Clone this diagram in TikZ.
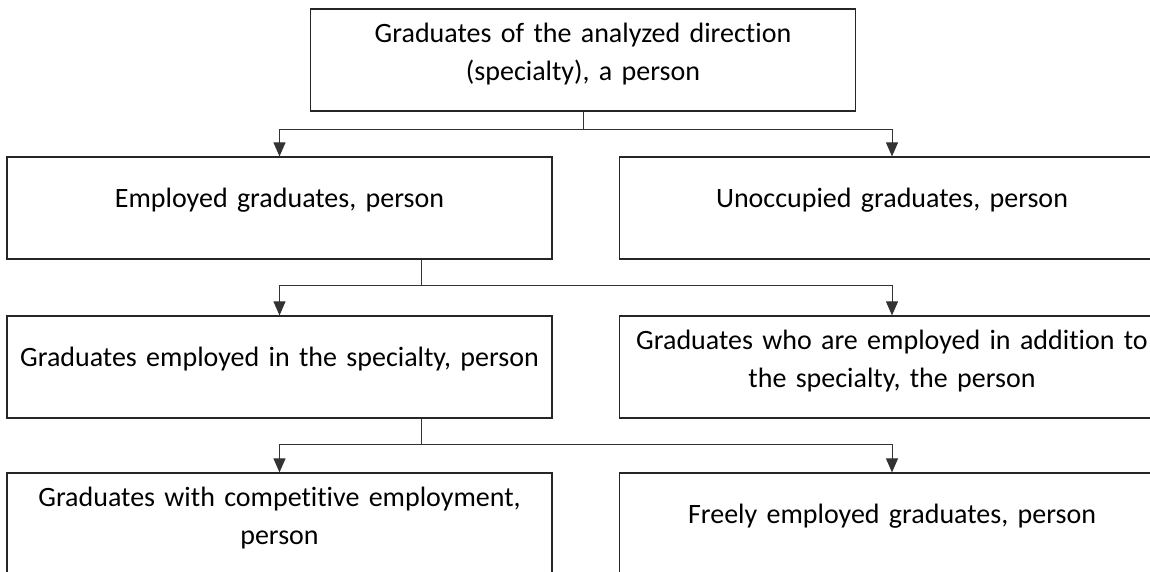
\documentclass[tikz,border=0pt]{standalone}
\usepackage{fontspec}
\setmainfont[Ligatures=NoCommon,WordSpace=0.8]{Carlito}
\usetikzlibrary{arrows.meta}

\begin{document}
\begin{tikzpicture}[
		x=1pt, y=1pt,
		node distance=157pt,
		bigbox/.style={rectangle,draw=black!85,line width=1.2pt,inner sep=0pt,
		text width=545pt,align=center,font=\fontsize{28}{38}\selectfont},
		oneline/.style={bigbox,text height=50pt,text depth=52pt},
		twoline/.style={bigbox,text height=33pt,text depth=69pt},
		stem/.style={draw=black!80,line width=1pt},
		fork/.style={stem,-{Triangle[width=12pt,length=14pt]}}
		]
	\useasboundingbox (0,0) rectangle (1150,-571);
	\clip (0,0) rectangle (1150,-571);

	\node[twoline](T) at (583,-60){Graduates of the analyzed direction\\(specialty), a person};
	\node[oneline, below of = T, xshift = -303.5pt, yshift = 9pt](E){Employed graduates, person};
	\node[oneline, right of = E, xshift = 455.5pt](U){Unoccupied graduates, person};
	\node[oneline, below of = E, yshift = -2pt](S){Graduates employed in the specialty, person};
	\node[twoline, below of = U, yshift = -2pt](A){Graduates who are employed in addition to\\the specialty, the person};
	\node[twoline, below of = S](C){Graduates with competitive employment,\\person};
	\node[oneline, below of = A](F){Freely employed graduates, person};

	% first split
	\draw[stem] (T.south) -- ++(0,-18) coordinate (J1);
	\draw[fork] (J1) -| (E.north);
	\draw[fork] (J1) -| (U.north);
	% second split
	\draw[stem] ([xshift=141.5pt]E.south) -- ++(0,-26) coordinate (J2);
	\draw[fork] (J2) -| (S.north);
	\draw[fork] (J2) -| (A.north);
	% third split
	\draw[stem] ([xshift=141.5pt]S.south) -- ++(0,-26) coordinate (J3);
	\draw[fork] (J3) -| (C.north);
	\draw[fork] (J3) -| (F.north);
\end{tikzpicture}
\end{document}
